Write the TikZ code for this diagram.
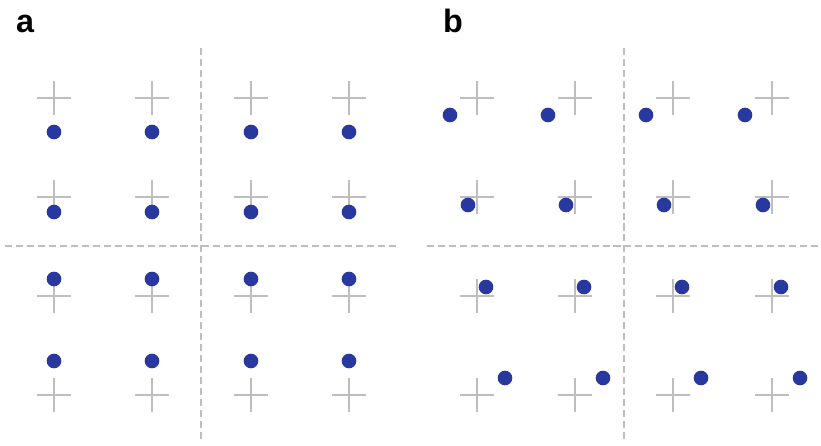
\documentclass[tikz,border=0pt]{standalone}
\usepackage{fontspec}
\setmainfont{Liberation Sans}
\definecolor{dotblue}{RGB}{40,56,158}
\definecolor{crossgray}{RGB}{190,190,190}
\begin{document}
\begin{tikzpicture}[x=0.025cm, y=-0.025cm,
  divider/.style={crossgray, dash pattern=on 5pt off 2.8pt, line width=0.8pt},
  cross/.style={crossgray, line width=1pt},
  spot/.style={fill=dotblue},
  panel/.style={anchor=base, font=\fontsize{23}{23}\selectfont\bfseries}]
  \useasboundingbox (0,0) rectangle (821,446);
  \node[panel] (la) at (25,33) {a};
  \node[panel] (lb) at (453,33) {b};
  % dividers
  \draw[divider] (201,48) -- (201,442);
  \draw[divider] (5,246) -- (398,246);
  \draw[divider] (624,48) -- (624,442);
  \draw[divider] (427,246) -- (821,246);
  % panel a: vertical shifts only
  \foreach \cx in {54,152,251,349}
    \foreach \cy/\dy in {98/34,197/15,296/-17,395/-34} {
      \draw[cross] (\cx-17,\cy) -- (\cx+17,\cy) (\cx,\cy-17) -- (\cx,\cy+17);
      \fill[spot] (\cx,\cy+\dy) circle (5.2pt);
    }
  % panel b: diagonal shifts
  \foreach \cx in {477,575,673,772}
    \foreach \cy/\dx/\dy in {98/-27/17,197/-9/8,296/9/-9,395/28/-17} {
      \draw[cross] (\cx-17,\cy) -- (\cx+17,\cy) (\cx,\cy-17) -- (\cx,\cy+17);
      \fill[spot] (\cx+\dx,\cy+\dy) circle (5.2pt);
    }
\end{tikzpicture}
\end{document}
